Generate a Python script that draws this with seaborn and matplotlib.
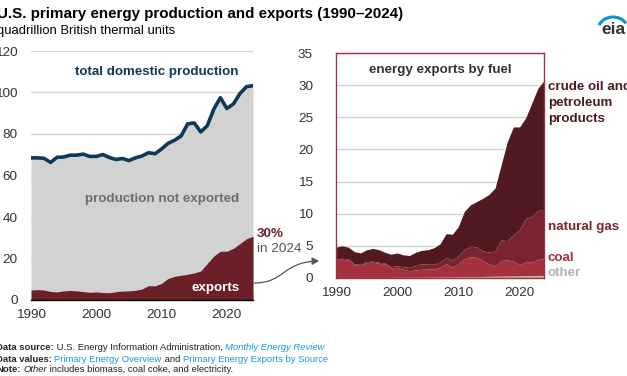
import matplotlib
matplotlib.use("Agg")
import matplotlib.pyplot as plt
import seaborn as sns
import numpy as np
import pandas as pd
from matplotlib.patches import FancyArrowPatch, Arc
from matplotlib.path import Path

# ---- data (quadrillion Btu) ----
years = list(range(1990, 2025))
total_production = [68.5, 68.5, 68.3, 66.3, 68.8, 68.9, 69.8, 69.8, 70.3, 69.2,
                    69.2, 70.1, 68.7, 67.7, 68.2, 67.2, 68.5, 69.4, 71.0, 70.5,
                    72.8, 75.5, 77.0, 79.1, 84.9, 85.3, 81.0, 84.0, 92.0, 97.5,
                    92.3, 94.5, 99.5, 102.8, 103.3]
total_exports = [4.8, 5.0, 4.8, 4.1, 3.9, 4.4, 4.6, 4.4, 4.0, 3.7,
                 3.9, 3.6, 3.5, 4.0, 4.3, 4.4, 4.7, 5.3, 6.9, 6.8,
                 8.0, 10.4, 11.4, 11.9, 12.4, 13.0, 14.0, 17.6, 21.2, 23.5,
                 23.5, 24.9, 27.2, 29.5, 30.7]
other = [0.08, 0.08, 0.08, 0.08, 0.08, 0.09, 0.09, 0.09, 0.09, 0.09,
         0.10, 0.10, 0.10, 0.11, 0.12, 0.13, 0.14, 0.15, 0.16, 0.17,
         0.18, 0.20, 0.20, 0.22, 0.24, 0.26, 0.28, 0.30, 0.32, 0.33,
         0.35, 0.36, 0.38, 0.40, 0.40]
coal = [2.77, 2.85, 2.68, 1.96, 1.88, 2.32, 2.37, 2.19, 2.09, 1.53,
        1.53, 1.27, 1.03, 1.12, 1.25, 1.27, 1.26, 1.51, 2.07, 1.52,
        2.10, 2.75, 3.12, 2.99, 2.45, 1.93, 1.57, 2.41, 2.50, 2.30,
        1.75, 2.10, 2.10, 2.50, 2.60]
natural_gas = [0.09, 0.13, 0.22, 0.14, 0.16, 0.16, 0.16, 0.16, 0.16, 0.16,
               0.25, 0.38, 0.52, 0.69, 0.86, 0.74, 0.74, 0.83, 0.98, 1.08,
               1.16, 1.52, 1.65, 1.60, 1.53, 1.81, 2.35, 3.20, 3.00, 4.10,
               5.40, 6.80, 7.10, 7.60, 7.70]
crude_oil = [1.86, 1.94, 1.82, 1.92, 1.78, 1.83, 1.98, 1.96, 1.66, 1.92,
             2.02, 1.85, 1.85, 2.08, 2.07, 2.26, 2.56, 2.81, 3.69, 4.03,
             4.56, 5.93, 6.43, 7.09, 8.18, 9.00, 9.80, 11.69, 15.38, 16.77,
             16.00, 15.64, 17.62, 19.00, 20.00]

df = pd.DataFrame({"year": years, "production": total_production, "exports": total_exports})

# ---- style ----
sns.set_style("white")
plt.rcParams["font.family"] = ["Liberation Sans", "DejaVu Sans"]

NAVY = "#0f3a55"
EXP_RED = "#6b1f26"
GRID = "#d4d4d4"
FILL_GREY = "#d2d2d2"
C_CRUDE = "#511a20"
C_GAS = "#7a2430"
C_COAL = "#a6313e"
C_OTHER = "#b3b3b3"
TXT = "#333333"
TICK_FS = 9.7
LAB_FS = 9.6

W, H = 627, 376
fig = plt.figure(figsize=(6.27, 3.76), dpi=100)


def fx(px):
    return px / W


def fy(py):
    return 1 - py / H


# ---- left panel: production and exports ----
ax1 = fig.add_axes([fx(31), fy(300), fx(253) - fx(31), fy(51) - fy(300)])
ax1.fill_between(df["year"], 0, df["production"], color=FILL_GREY, lw=0, zorder=0.2)
ax1.fill_between(df["year"], 0, df["exports"], color=EXP_RED, lw=0, zorder=2)
sns.lineplot(data=df, x="year", y="production", ax=ax1, color=NAVY, lw=2.6, zorder=3)
ax1.set_xlim(1990, 2024)
ax1.set_ylim(0, 120)
ax1.set_yticks(range(0, 121, 20))
ax1.set_xticks(range(1990, 2025, 10))
ax1.set_xticks(range(1990, 2025, 5), minor=True)
ax1.set_axisbelow(True)
ax1.yaxis.grid(True, color=GRID, lw=1)
ax1.set_xlabel("")
ax1.set_ylabel("")
for s in ["top", "right", "left"]:
    ax1.spines[s].set_visible(False)
ax1.spines["bottom"].set_color("black")
ax1.spines["bottom"].set_linewidth(1)
ax1.tick_params(axis="y", length=0, pad=9.5, labelsize=TICK_FS, labelcolor=TXT)
ax1.tick_params(axis="x", which="both", length=4, width=0.8, color="black", direction="out",
                pad=2.5, labelsize=TICK_FS, labelcolor=TXT)

ax1.text(2009.3, 110, "total domestic production", ha="center", va="center",
         color=NAVY, fontsize=LAB_FS, fontweight="bold")
ax1.text(2010.0, 48.7, "production not exported", ha="center", va="center",
         color="#6d6d6d", fontsize=LAB_FS, fontweight="bold")
ax1.text(2018.2, 6.0, "exports", ha="center", va="center",
         color="white", fontsize=LAB_FS, fontweight="bold")

fig.text(fx(257), fy(234), "30%", ha="left", va="center", color=EXP_RED,
         fontsize=LAB_FS, fontweight="bold")
fig.text(fx(257), fy(249), "in 2024", ha="left", va="center", color="#555555",
         fontsize=TICK_FS)

# ---- right panel: exports by fuel ----
ax2 = fig.add_axes([fx(336), fy(278), fx(544) - fx(336), fy(53) - fy(278)])
ax2.stackplot(years, other, coal, natural_gas, crude_oil,
              colors=[C_OTHER, C_COAL, C_GAS, C_CRUDE], lw=0, zorder=2)
ax2.set_xlim(1990, 2024)
ax2.set_ylim(0, 35)
ax2.set_yticks(range(0, 36, 5))
ax2.set_xticks(range(1990, 2025, 10))
ax2.set_axisbelow(True)
ax2.yaxis.grid(True, color=GRID, lw=1)
for s in ax2.spines.values():
    s.set_color("#9a3540")
    s.set_linewidth(1)
ax2.tick_params(axis="y", length=0, pad=16.5, labelsize=TICK_FS, labelcolor=TXT)
ax2.tick_params(axis="x", length=0, pad=6.5, labelsize=TICK_FS, labelcolor=TXT)
ax2.text(0.5, 0.925, "energy exports by fuel", transform=ax2.transAxes, ha="center",
         va="center", color=TXT, fontsize=LAB_FS, fontweight="bold")

fig.text(fx(548), fy(87), "crude oil and", color=C_CRUDE, fontsize=LAB_FS,
         fontweight="bold", va="center", ha="left")
fig.text(fx(548), fy(103), "petroleum", color=C_CRUDE, fontsize=LAB_FS,
         fontweight="bold", va="center", ha="left")
fig.text(fx(548), fy(119), "products", color=C_CRUDE, fontsize=LAB_FS,
         fontweight="bold", va="center", ha="left")
fig.text(fx(548), fy(227), "natural gas", color=C_GAS, fontsize=LAB_FS,
         fontweight="bold", va="center", ha="left")
fig.text(fx(548), fy(258), "coal", color=C_COAL, fontsize=LAB_FS,
         fontweight="bold", va="center", ha="left")
fig.text(fx(548), fy(273), "other", color=C_OTHER, fontsize=LAB_FS,
         fontweight="bold", va="center", ha="left")

# ---- curved connector arrow ----
verts = [(fx(254), fy(283)), (fx(285), fy(283)), (fx(282), fy(262)), (fx(319), fy(261))]
codes = [Path.MOVETO, Path.CURVE4, Path.CURVE4, Path.CURVE4]
arrow = FancyArrowPatch(path=Path(verts, codes), arrowstyle="-|>,head_length=4,head_width=2.2",
                        color="#555555", lw=0.9, transform=fig.transFigure)
fig.patches.append(arrow)

# ---- titles ----
fig.text(fx(-3), fy(14), "U.S. primary energy production and exports (1990\u20132024)",
         fontsize=10.9, fontweight="bold", color="black", va="center", ha="left")
fig.text(fx(-3), fy(31), "quadrillion British thermal units", fontsize=9.4,
         color="black", va="center", ha="left")

# eia logo
fig.text(fx(613), fy(30), "eia", fontsize=12.5, color="#333333", va="center",
         ha="center", fontweight="bold")
logo_arc = Arc((fx(613), fy(30)), fx(30), fy(0) - fy(26), theta1=40, theta2=150,
               color="#0096d6", lw=2.2, transform=fig.transFigure)
fig.patches.append(logo_arc)

# ---- footer with mixed styles ----
fig.canvas.draw()
renderer = fig.canvas.get_renderer()


def rich_line(y_px, parts, x_px=-4):
    x = fx(x_px)
    for txt, kw in parts:
        t = fig.text(x, fy(y_px), txt, fontsize=6.8, va="center", ha="left", **kw)
        bb = t.get_window_extent(renderer=renderer)
        x += bb.width / fig.bbox.width


BLUE = "#1a9ad6"
rich_line(348, [("Data source:", dict(fontweight="bold")),
                (" U.S. Energy Information Administration, ", dict(color="#222222")),
                ("Monthly Energy Review", dict(color=BLUE, style="italic"))])
rich_line(359, [("Data values:", dict(fontweight="bold")),
                (" ", {}),
                ("Primary Energy Overview", dict(color=BLUE)),
                (" and ", dict(color="#222222")),
                ("Primary Energy Exports by Source", dict(color=BLUE))])
rich_line(370, [("Note:", dict(fontweight="bold")),
                (" ", {}),
                ("Other", dict(style="italic", color="#222222")),
                (" includes biomass, coal coke, and electricity.", dict(color="#222222"))])

fig.savefig("out.png", dpi=100)
